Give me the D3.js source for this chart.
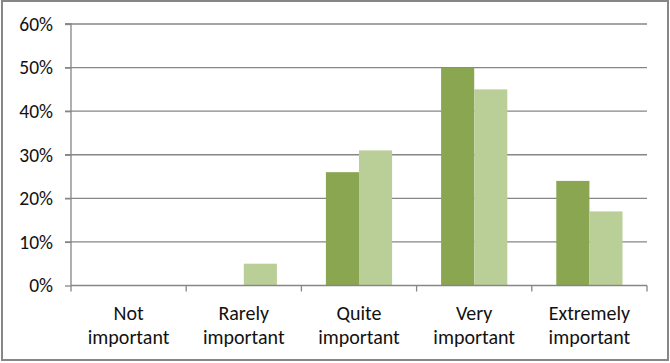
<!DOCTYPE html>
<html><head><meta charset="utf-8">
<script src="https://cdn.jsdelivr.net/npm/d3@7"></script>
<style>body{margin:0;background:#fff}svg{display:block}</style>
</head><body>
<script>
const categories = ["Not important", "Rarely important", "Quite important", "Very important", "Extremely important"];
const series1 = [0, 0, 26, 50, 24];
const series2 = [0, 5, 31, 45, 17];
const yTicks = [0, 10, 20, 30, 40, 50, 60];
const colors = ["#8aa650", "#bacf98"];

(function () {
const W = 670, H = 363;
const svg = d3.select("body").append("svg").attr("width", W).attr("height", H);
svg.append("rect").attr("x", 2).attr("y", 1).attr("width", 666).attr("height", 359)
  .attr("fill", "#fff").attr("stroke", "#868686").attr("stroke-width", 2);

const pL = 71, pR = 647, pT = 24, pB = 285.5;
const x = d3.scaleBand().domain(categories).range([pL, pR]).paddingInner(0).paddingOuter(0);
const y = d3.scaleLinear().domain([0, 60]).range([pB, pT]);
const inner = d3.scaleBand().domain([0, 1]).range([0, x.bandwidth()]).paddingOuter(0.74).paddingInner(0);

const font = "Carlito, Calibri, Lato, 'Open Sans', sans-serif";

// gridlines
svg.append("g").selectAll("line").data(yTicks.filter(d => d > 0)).join("line")
  .attr("x1", pL - 6).attr("x2", pR).attr("y1", d => y(d)).attr("y2", d => y(d))
  .attr("stroke", "#868686").attr("stroke-width", 1.3);

// y axis
const yAxis = d3.axisLeft(y).tickValues(yTicks).tickFormat(d => d + "%").tickSize(6).tickPadding(12);
const gy = svg.append("g").attr("transform", `translate(${pL},0)`).call(yAxis);
gy.select(".domain").attr("stroke", "#868686").attr("stroke-width", 1.3).attr("d", `M-6,${pT}H0V${pB}`);
gy.selectAll(".tick line").attr("stroke", "#868686").attr("stroke-width", 1.3);
gy.selectAll("text").attr("font-family", font).attr("font-size", 19.5).attr("fill", "#111");

// bars
const data = [series1, series2];
data.forEach((s, si) => {
  svg.append("g").selectAll("rect").data(categories).join("rect")
    .attr("x", (c) => x(c) + inner(si))
    .attr("width", inner.bandwidth())
    .attr("y", (c, i) => y(s[i]))
    .attr("height", (c, i) => pB - y(s[i]))
    .attr("fill", colors[si]);
});

// x axis
const gx = svg.append("g").attr("transform", `translate(0,${pB})`);
gx.append("line").attr("x1", pL).attr("x2", pR).attr("y1", 0).attr("y2", 0)
  .attr("stroke", "#868686").attr("stroke-width", 1.3);
const bounds = categories.map(c => x(c)).concat([pR]);
gx.selectAll("line.t").data(bounds).join("line").attr("class", "t")
  .attr("x1", d => d).attr("x2", d => d).attr("y1", 0).attr("y2", 6)
  .attr("stroke", "#868686").attr("stroke-width", 1.3);
const lbl = gx.selectAll("text").data(categories).join("text")
  .attr("x", c => x(c) + x.bandwidth() / 2)
  .attr("y", 34)
  .attr("text-anchor", "middle")
  .attr("font-family", font).attr("font-size", 20).attr("fill", "#111");
lbl.each(function(c) {
  const parts = c.split(" ");
  const t = d3.select(this);
  parts.forEach((p, i) => t.append("tspan").attr("x", x(c) + x.bandwidth() / 2).attr("dy", i ? 24.5 : 0).text(p));
});
})();
</script>
</body></html>
